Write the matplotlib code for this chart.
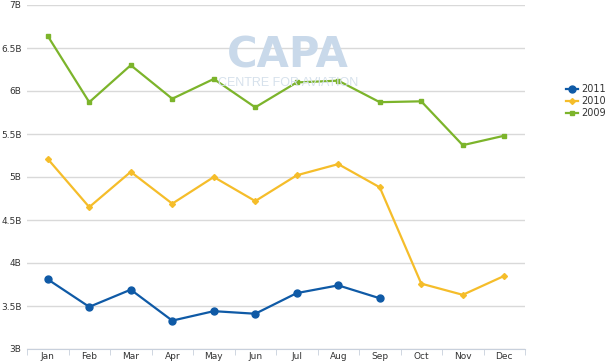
import matplotlib
matplotlib.use("Agg")
import matplotlib.pyplot as plt
import numpy as np

months = ["Jan", "Feb", "Mar", "Apr", "May", "Jun", "Jul", "Aug", "Sep", "Oct", "Nov", "Dec"]
v2011 = [3.81, 3.49, 3.69, 3.33, 3.44, 3.41, 3.65, 3.74, 3.59]
v2010 = [5.21, 4.65, 5.06, 4.69, 5.00, 4.72, 5.02, 5.15, 4.88, 3.76, 3.63, 3.85]
v2009 = [6.64, 5.87, 6.30, 5.91, 6.14, 5.81, 6.10, 6.12, 5.87, 5.88, 5.37, 5.48]
yticks = [3, 3.5, 4, 4.5, 5, 5.5, 6, 6.5, 7]
ylabels = ["3B", "3.5B", "4B", "4.5B", "5B", "5.5B", "6B", "6.5B", "7B"]

fig = plt.figure(figsize=(6.1, 3.62), dpi=100)
ax = fig.add_axes([27/610, 1-349/362, (525-27)/610, (349-5)/362])

# watermark
fig.text(288/610, 1-67/362, "CAPA", fontsize=30, fontweight="bold", color="#c9d9ea",
         ha="center", va="baseline", family="DejaVu Sans", zorder=0)
fig.text(288/610, 1-83/362, "CENTRE FOR AVIATION", fontsize=9, color="#d6e1ec",
         ha="center", va="center", family="Liberation Sans", zorder=0)

x = np.arange(len(months))
ax.plot(x[:len(v2011)], v2011, color="#0f5aa6", marker="o", markersize=5, lw=1.6, label="2011", zorder=5)
ax.plot(x, v2010, color="#f5bd2a", marker="D", markersize=3, lw=1.6, label="2010", zorder=4)
ax.plot(x, v2009, color="#7cb42b", marker="s", markersize=3.5, lw=1.6, label="2009", zorder=3)

ax.set_xlim(-0.5, 11.5)
ax.set_ylim(3, 7)
ax.set_yticks(yticks)
ax.set_yticklabels(ylabels)
ax.set_xticks(x)
ax.set_xticklabels(months)
ax.set_xticks(np.arange(-0.5, 12, 1), minor=True)
ax.tick_params(axis="x", which="major", length=0, labelsize=6.5, pad=2, colors="#333333")
ax.tick_params(axis="x", which="minor", length=4, color="#c8d0dc")
ax.tick_params(axis="y", length=0, labelsize=6.5, pad=4, colors="#333333")
ax.grid(axis="y", color="#d9d9d9", lw=1)
ax.set_axisbelow(True)
for s in ["top", "right", "left"]:
    ax.spines[s].set_visible(False)
ax.spines["bottom"].set_color("#c8d0dc")
ax.patch.set_alpha(0)

leg = fig.legend(loc="center left", bbox_to_anchor=(562/610, 1-101/362), frameon=False,
                 fontsize=7, handlelength=1.25, handletextpad=0.35, labelspacing=0.2,
                 borderaxespad=0)
for t in leg.get_texts():
    t.set_color("#333333")

fig.savefig("out.png", dpi=100)
